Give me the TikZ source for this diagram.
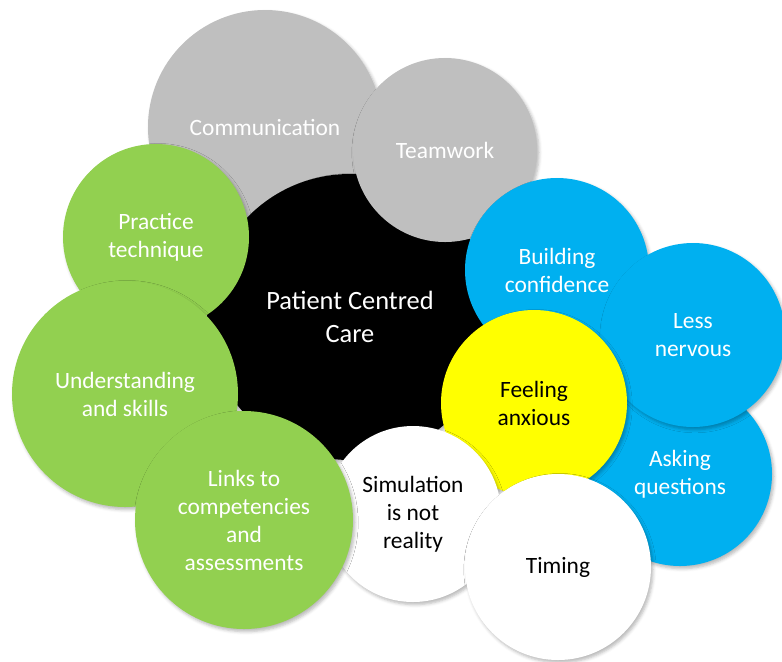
\documentclass[tikz,border=0pt]{standalone}
\usepackage{fontspec}
\setmainfont{Carlito}
\usetikzlibrary{shadows.blur}
\definecolor{cgray}{HTML}{BFBFBF}
\definecolor{cgreen}{HTML}{92D050}
\definecolor{cblue}{HTML}{00B0F0}
\definecolor{cyellow}{HTML}{FFFF00}
\begin{document}
\begin{tikzpicture}[x=0.5pt,y=-0.5pt,
  bub/.style={circle, inner sep=0pt, align=center,
    font=\fontsize{11.7pt}{14pt}\selectfont,
    blur shadow={shadow xshift=1pt, shadow yshift=-1.3pt,
      shadow blur radius=1.6pt, shadow opacity=28}},
  grey/.style={bub, fill=cgray, text=white},
  green/.style={bub, fill=cgreen, text=white},
  blue/.style={bub, fill=cblue, text=white},
  core/.style={bub, fill=black, text=white,
    font=\fontsize{13.2pt}{16.5pt}\selectfont},
  pale/.style={bub, fill=white, text=black},
  warn/.style={bub, fill=cyellow, text=black}]
\useasboundingbox (0,0) rectangle (782,661);
% back row
\node[grey, minimum size=117pt] (comm) at (265,127) {Communication};
\node[core, minimum size=143pt] (pcc) at (350,317) {Patient Centred\\Care};
\node[grey, minimum size=92pt] (team) at (445,150) {Teamwork};
% right cluster
\node[blue, minimum size=92pt] (build) at (557,270) {Building\\confidence};
\node[blue, minimum size=92pt] (ask) at (680,474) {Asking\\questions};
\node[blue, minimum size=92pt] (less) at (693,335) {Less\\nervous};
\node[warn, minimum size=93pt] (anx) at (534,403) {Feeling\\anxious};
% bottom
\node[pale, minimum size=88pt] (sim) at (413,514) {Simulation\\is not\\reality};
\node[pale, minimum size=93pt] (time) at (558,567) {Timing};
% left cluster
\node[green, minimum size=93pt] (prac) at (156,237) {Practice\\technique};
\node[green, minimum size=113pt] (und) at (125,394) {Understanding\\and skills};
\node[green, minimum size=109pt] (links) at (244,520) {Links to\\competencies\\and\\assessments};
\end{tikzpicture}
\end{document}
